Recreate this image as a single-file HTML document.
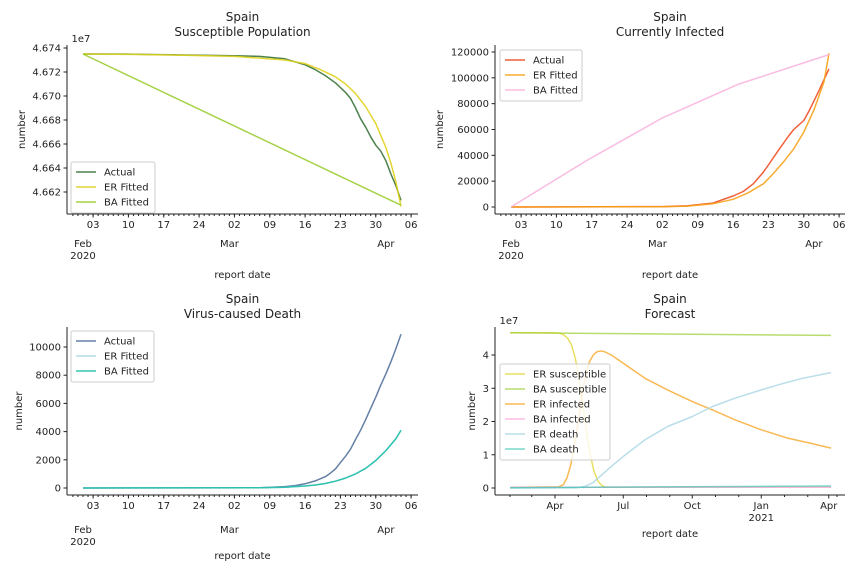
<!DOCTYPE html>
<html><head><meta charset="utf-8">
<style>
body{margin:0;background:#fff;}
svg{display:block;font-family:"DejaVu Sans","Liberation Sans",sans-serif;}
text{fill:#222;}
</style></head>
<body>
<svg id="chart" width="864" height="576" viewBox="0 0 864 576"></svg>
<script>
// ---- Data (day index from 2020-02-01) ----
const tlActualDays=[0,10,20,30,35,40,44,46,48,50,51,52,53,54,55,56,57,58,59,60,61,62,63];
const tlActual=[4.67350,4.67348,4.67342,4.67335,4.67330,4.67310,4.67260,4.67220,4.67170,4.67110,4.67070,4.67030,4.66980,4.66900,4.66810,4.66740,4.66660,4.66590,4.66540,4.66460,4.66350,4.66250,4.66130];
const tlERDays=[0,10,20,30,40,44,47,50,52,54,56,58,60,61,62,63];
const tlER=[4.67350,4.67347,4.67340,4.67330,4.67300,4.67270,4.67220,4.67160,4.67100,4.67020,4.66910,4.66770,4.66570,4.66440,4.66280,4.66080];
const tlBADays=[0,63];
const tlBA=[4.67350,4.66090];
const tlYTicks=[4.662,4.664,4.666,4.668,4.670,4.672,4.674];

const trActualDays=[0,30,35,40,44,46,48,50,51,53,55,56,58,59,61,63];
const trActual=[0,300,1000,3000,8500,12000,18000,27000,32500,44000,55000,60000,67000,74000,90000,107000];
const trERDays=[0,30,35,40,44,47,50,52,54,56,58,60,62,63];
const trER=[0,200,700,2500,6000,11000,18000,26000,35000,45000,58000,75000,97000,119000];
const trBADays=[0,15,30,45,63];
const trBA=[0,36000,69000,95000,118000];
const trYTicks=[0,20000,40000,60000,80000,100000,120000];

const blActualDays=[0,35,40,42,44,45,46,47,48,49,50,51,52,53,54,55,56,57,58,59,60,61,62,63];
const blActual=[0,20,100,170,300,400,500,650,800,1050,1350,1800,2250,2750,3450,4100,4850,5650,6450,7300,8100,8950,9900,10900];
const blERDays=[0,35,40,44,46,48,50,52,54,56,58,60,62,63];
const blER=[0,20,60,140,210,320,480,700,1000,1400,1950,2650,3500,4100];
const blBADays=blERDays;
const blBA=blER;
const blYTicks=[0,2000,4000,6000,8000,10000];

const brSusDays=[0,60,67,72,77,82,87,92,97,102,107,112,117,122,127,133,140,428];
const brERSus=[4.67,4.67,4.65,4.6,4.5,4.3,3.9,3.3,2.5,1.7,1.0,0.5,0.22,0.08,0.03,0.02,0.02,0.02];
const brInfDays=[0,65,71,76,81,86,91,96,101,106,111,116,121,126,135,151,180,210,243,270,300,335,370,400,428];
const brERInf=[0.02,0.04,0.1,0.3,0.7,1.3,2.0,2.8,3.4,3.8,4.0,4.1,4.12,4.1,4.0,3.75,3.3,2.95,2.6,2.35,2.05,1.75,1.5,1.35,1.2];
const brDeathDays=[0,90,100,110,120,135,151,180,210,243,270,300,335,360,390,428];
const brERDeath=[0,0.01,0.05,0.15,0.35,0.65,0.95,1.45,1.85,2.15,2.45,2.7,2.95,3.12,3.3,3.47];
const brBASusDays=[0,428];
const brBASus=[4.67,4.59];
const brBAInf=[0.02,0.02];
const brBADeath=[0.01,0.06];
const brYTicks=[0,1,2,3,4];

const NS="http://www.w3.org/2000/svg";
const svg=document.getElementById('chart');
function mk(tag,attrs,parent){const e=document.createElementNS(NS,tag);for(const k in attrs)e.setAttribute(k,attrs[k]);(parent||svg).appendChild(e);return e;}
function txt(s,x,y,size,anchor,parent,rot){const e=mk('text',{x:x,y:y,'font-size':size,'text-anchor':anchor||'middle'},parent);if(rot)e.setAttribute('transform','rotate(-90 '+x+' '+y+')');e.textContent=s;return e;}

function panel(cfg){
  const g=mk('g',{});
  
  
  const X=d=>cfg.x0+(d-cfg.d0)*(cfg.x1-cfg.x0)/(cfg.d1-cfg.d0);
  const Y=v=>cfg.y0+(v-cfg.v0)*(cfg.y1-cfg.y0)/(cfg.v1-cfg.v0);
  let t=txt(cfg.t1,(cfg.L+cfg.R)/2,cfg.T-24,12,'middle',g);
  
  t=txt(cfg.t2,(cfg.L+cfg.R)/2,cfg.T-9,12,'middle',g);
  
  cfg.series.forEach(s=>{
    const pts=s.d.map((d,i)=>X(d).toFixed(1)+','+Y(s.v[i]).toFixed(1)).join(' ');
    const p=mk('polyline',{points:pts,fill:'none',stroke:s.c,'stroke-width':1.5,'stroke-opacity':s.o||0.9,'stroke-linejoin':'round'},g);
    
    
  });
  mk('line',{x1:cfg.L,y1:cfg.T,x2:cfg.L,y2:cfg.B,stroke:'#222','stroke-width':1},g);
  mk('line',{x1:cfg.L,y1:cfg.B,x2:cfg.R,y2:cfg.B,stroke:'#222','stroke-width':1},g);
  cfg.yt.forEach(v=>{const y=Y(v);mk('line',{x1:cfg.L-3.5,y1:y,x2:cfg.L,y2:y,stroke:'#222'},g);
    const e=txt(cfg.yfmt(v),cfg.L-6,y+3.5,10,'end',g);});
  if(cfg.exp){txt(cfg.exp,cfg.L+14,cfg.T-3,10,'middle',g);}
  const yl=txt('number',cfg.ylx,(cfg.T+cfg.B)/2,10,'middle',g,true);
  
  cfg.minor.forEach(d=>mk('line',{x1:X(d),y1:cfg.B,x2:X(d),y2:cfg.B+2,stroke:'#222'},g));
  cfg.major.forEach((d,i)=>{mk('line',{x1:X(d),y1:cfg.B,x2:X(d),y2:cfg.B+3.5,stroke:'#222'},g);
    const e=txt(cfg.majorL[i],X(d),cfg.B+14,10,'middle',g);});
  cfg.months.forEach(m=>{const e=txt(m[1],X(m[0]),cfg.B+m[3],10,'middle',g);
    if(m[2])txt(m[2],X(m[0]),cfg.B+m[3]+12,10,'middle',g);});
  const xl=txt('report date',(cfg.L+cfg.R)/2,cfg.xly,10,'middle',g);
  
  const lg=mk('g',{},g);
  const lh=cfg.series.length*15+6;
  mk('rect',{x:cfg.lx,y:cfg.ly,width:cfg.lw,height:lh,fill:'#fff','fill-opacity':0.8,stroke:'#ccc',rx:2},lg);
  cfg.series.forEach((s,i)=>{const y=cfg.ly+10+i*15;
    mk('line',{x1:cfg.lx+5,y1:y,x2:cfg.lx+25,y2:y,stroke:s.c,'stroke-width':1.5,'stroke-opacity':s.o||0.9},lg);
    const e=txt(s.label,cfg.lx+33,y+3.5,10,'start',lg);});
}
function range(a,b){const r=[];for(let i=a;i<=b;i++)r.push(i);return r;}
const wk=[2,9,16,23,30,37,44,51,58,65];
const wkL=['03','10','17','24','02','09','16','23','30','06'];
const topMonths=[[0,'Feb','2020',33],[29,'Mar','',33],[60,'Apr','',33]];
panel({name:'susceptible-population-panel',t1:'Spain',t2:'Susceptible Population',L:67,R:418,T:45,B:214,
  x0:83,x1:401,d0:0,d1:63,y0:192,y1:48,v0:4.662,v1:4.674,yt:tlYTicks,yfmt:v=>v.toFixed(3),exp:'1e7',ylx:25,
  minor:range(-2,65),major:wk,majorL:wkL,months:topMonths,xly:278,lx:71,ly:162,lw:84,
  series:[{d:tlActualDays,v:tlActual,c:'#2e6b2e',label:'Actual',o:0.85},{d:tlERDays,v:tlER,c:'#e0d21c',label:'ER Fitted'},{d:tlBADays,v:tlBA,c:'#9acd32',label:'BA Fitted'}]});
panel({name:'currently-infected-panel',t1:'Spain',t2:'Currently Infected',L:495,R:845,T:45,B:214,
  x0:511,x1:829,d0:0,d1:63,y0:207,y1:52,v0:0,v1:120000,yt:trYTicks,yfmt:v=>String(v),ylx:443,
  minor:range(-2,65),major:wk,majorL:wkL,months:topMonths,xly:278,lx:500,ly:50,lw:82,
  series:[{d:trActualDays,v:trActual,c:'#f04e23',label:'Actual'},{d:trERDays,v:trER,c:'#f7a21b',label:'ER Fitted'},{d:trBADays,v:trBA,c:'#f9b4de',label:'BA Fitted'}]});
panel({name:'virus-caused-death-panel',t1:'Spain',t2:'Virus-caused Death',L:67,R:418,T:327,B:495,
  x0:83,x1:401,d0:0,d1:63,y0:488,y1:347,v0:0,v1:10000,yt:blYTicks,yfmt:v=>String(v),ylx:22,
  minor:range(-2,65),major:wk,majorL:wkL,months:topMonths.map(m=>[m[0],m[1],m[2],38]),xly:559,lx:71,ly:331,lw:83,
  series:[{d:blActualDays,v:blActual,c:'#4a6a96',label:'Actual',o:0.85},{d:blERDays,v:blER,c:'#add8e6',label:'ER Fitted'},{d:blBADays,v:blBA,c:'#20bfa8',label:'BA Fitted'}]});
panel({name:'forecast-panel',t1:'Spain',t2:'Forecast',L:495,R:845,T:327,B:495,
  x0:510,x1:831,d0:0,d1:428,y0:488,y1:355,v0:0,v1:4,yt:brYTicks,yfmt:v=>String(v),exp:'1e7',ylx:475,
  minor:[0,29,91,121,182,213,274,305,366,397,436],major:[60,151,243,335,425],majorL:['Apr','Jul','Oct','Jan','Apr'],
  months:[[335,'2021','',26]],xly:537,lx:500,ly:364,lw:110,
  series:[{d:brSusDays,v:brERSus,c:'#e0d21c',label:'ER susceptible',o:0.7},{d:brBASusDays,v:brBASus,c:'#9acd32',label:'BA susceptible',o:0.7},
    {d:brInfDays,v:brERInf,c:'#f7a21b',label:'ER infected',o:0.75},{d:brBASusDays,v:brBAInf,c:'#f9b4de',label:'BA infected'},
    {d:brDeathDays,v:brERDeath,c:'#add8e6',label:'ER death',o:0.85},{d:brBASusDays,v:brBADeath,c:'#20bfa8',label:'BA death',o:0.6}]});
</script>
</body></html>
